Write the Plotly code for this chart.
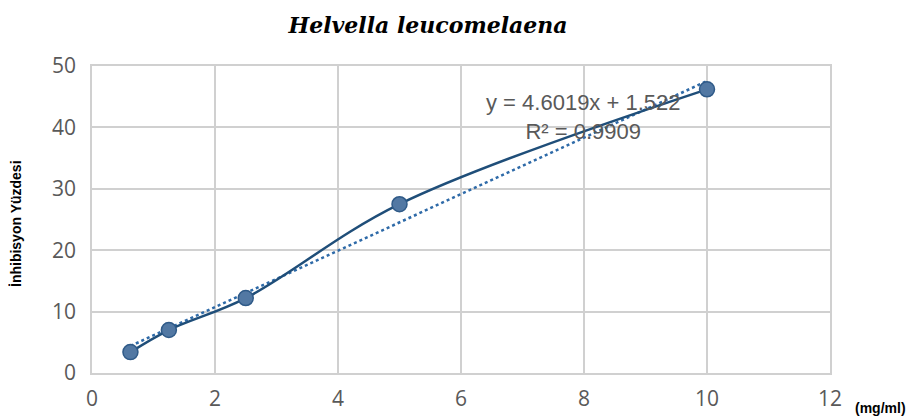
import plotly.graph_objects as go

concentration = [0.625, 1.25, 2.5, 5, 10]
inhibition = [3.4, 7.0, 12.2, 27.5, 46.2]
slope = 4.6019
intercept = 1.522
r_squared = 0.9909

x_ticks = [0, 2, 4, 6, 8, 10, 12]
y_ticks = [0, 10, 20, 30, 40, 50]

trend_x = [min(concentration), max(concentration)]
trend_y = [slope * v + intercept for v in trend_x]

# page body has an 8px margin; work in screen pixels and shift
OFF = 8
W, H = 916 - OFF, 418 - OFF
L, R, T, B = 92 - OFF, 830 - OFF, 66 - OFF, 373 - OFF


def px(sx):
    return (sx - OFF - L) / (R - L)


def py(sy):
    return (B - (sy - OFF)) / (B - T)


fig = go.Figure()
fig.add_trace(go.Scatter(
    x=trend_x, y=trend_y, mode="lines",
    line=dict(color="#2e6aa8", width=2.5, dash="dot"),
    hoverinfo="skip", showlegend=False))
fig.add_trace(go.Scatter(
    x=concentration, y=inhibition, mode="lines+markers",
    line=dict(color="#1f4e79", width=2.5, shape="spline", smoothing=1),
    marker=dict(size=15, color="#5278a3", line=dict(color="#2f5a88", width=1.5)),
    showlegend=False))

grid = "#d0d0d0"
tickfont = dict(family="Open Sans", size=21, color="#595959")
fig.update_layout(
    width=W, height=H,
    margin=dict(l=L, r=W - R, t=T, b=H - B),
    paper_bgcolor="white", plot_bgcolor="white",
    title=dict(text="Helvella leucomelaena", x=(428 - OFF) / W, xanchor="center",
               y=1 - (25 - OFF) / H, yanchor="middle",
               font=dict(family="DejaVu Serif", size=22, color="black", style="italic", weight="bold")),
    xaxis=dict(range=[0, 12], tickvals=x_ticks, showgrid=True, gridcolor=grid, gridwidth=1.5,
               showline=True, linecolor=grid, linewidth=1.5, mirror=True, zeroline=False,
               automargin=False, ticks="", ticklabelstandoff=6, tickfont=tickfont),
    yaxis=dict(range=[0, 50], tickvals=y_ticks, showgrid=True, gridcolor=grid, gridwidth=1.5,
               showline=True, linecolor=grid, linewidth=1.5, mirror=True, zeroline=False,
               automargin=False, ticks="", ticklabelstandoff=10, tickfont=tickfont),
)
fig.add_annotation(
    x=px(583), y=py(117), xref="paper", yref="paper",
    showarrow=False, xanchor="center", yanchor="middle", align="center",
    text=f"y = {slope}x + {intercept}<br>R² = {r_squared}",
    font=dict(family="Liberation Sans", size=22, color="#595959"))
fig.add_annotation(
    x=px(16), y=py(224), xref="paper", yref="paper", showarrow=False, textangle=-90,
    xanchor="center", yanchor="middle", text="İnhibisyon Yüzdesi",
    font=dict(family="Liberation Sans", size=14, color="black", weight="bold"))
fig.add_annotation(
    x=px(880), y=py(408), xref="paper", yref="paper", showarrow=False,
    xanchor="center", yanchor="middle", text="(mg/ml)",
    font=dict(family="Liberation Sans", size=14, color="black", weight="bold"))

fig.write_html("out.html")
